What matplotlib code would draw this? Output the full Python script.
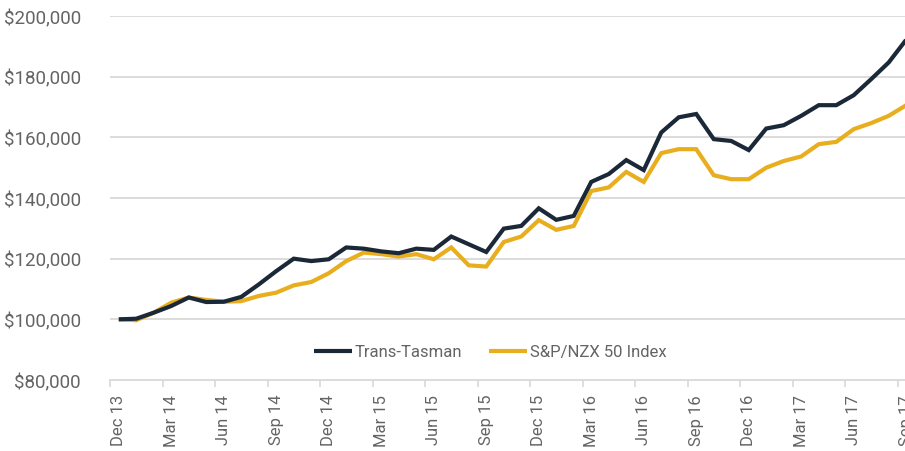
import matplotlib
matplotlib.use("Agg")
import matplotlib.pyplot as plt
from matplotlib.ticker import FuncFormatter, FixedLocator

plt.rcParams['font.family'] = ['Roboto', 'DejaVu Sans']

months = ["Dec 13", "Jan 14", "Feb 14", "Mar 14", "Apr 14", "May 14", "Jun 14", "Jul 14", "Aug 14",
          "Sep 14", "Oct 14", "Nov 14", "Dec 14", "Jan 15", "Feb 15", "Mar 15", "Apr 15", "May 15",
          "Jun 15", "Jul 15", "Aug 15", "Sep 15", "Oct 15", "Nov 15", "Dec 15", "Jan 16", "Feb 16",
          "Mar 16", "Apr 16", "May 16", "Jun 16", "Jul 16", "Aug 16", "Sep 16", "Oct 16", "Nov 16",
          "Dec 16", "Jan 17", "Feb 17", "Mar 17", "Apr 17", "May 17", "Jun 17", "Jul 17", "Aug 17",
          "Sep 17"]

trans_tasman = [100000, 100200, 102200, 104400, 107200, 105700, 105800, 107400, 111500,
                115900, 120000, 119200, 119800, 123700, 123300, 122400, 121800, 123300,
                122900, 127300, 124750, 122200, 129900, 130800, 136600, 132800, 134100,
                145300, 147900, 152500, 149200, 161600, 166600, 167700, 159400, 158800,
                155800, 162900, 164000, 167100, 170600, 170600, 173900, 179200, 184700,
                192200]

nzx50 = [100000, 99700, 102200, 105500, 107200, 106400, 105800, 106000, 107700,
         108800, 111200, 112300, 115200, 119200, 122000, 121500, 120700, 121500,
         119800, 123700, 117800, 117400, 125500, 127300, 132700, 129500, 130800,
         142300, 143500, 148600, 145300, 154800, 156100, 156100, 147500, 146200,
         146200, 150000, 152200, 153700, 157750, 158500, 162700, 164700, 167100,
         170600]

series_names = ["Trans-Tasman", "S&P/NZX 50 Index"]
y_ticks = [80000, 100000, 120000, 140000, 160000, 180000, 200000]

W, H = 905, 452
fig = plt.figure(figsize=(W / 100, H / 100), dpi=100)
left, right, top, bottom = 110, 915, 17, 381
ax = fig.add_axes([left / W, (H - bottom) / H, (right - left) / W, (bottom - top) / H])

x = list(range(len(months)))
grid_color = "#d9d9d9"
text_color = "#646464"

for yv in y_ticks[1:]:
    ax.axhline(yv, color=grid_color, lw=1.3, zorder=0)

ax.plot(x, trans_tasman, color="#1b2838", lw=3.0, label=series_names[0], zorder=3,
        solid_joinstyle="miter", solid_capstyle="butt")
ax.plot(x, nzx50, color="#e8ae1e", lw=3.0, label=series_names[1], zorder=2,
        solid_joinstyle="miter", solid_capstyle="butt")

ax.set_xlim(-0.5, len(months) - 0.5)
ax.set_ylim(80000, 200000)

for s in ["left", "right", "top"]:
    ax.spines[s].set_visible(False)
ax.spines["bottom"].set_color(grid_color)
ax.spines["bottom"].set_linewidth(1.3)

label_idx = list(range(0, len(months), 3))
ax.set_xticks(label_idx)
ax.set_xticklabels([months[i] for i in label_idx], rotation=90, fontsize=12, color=text_color)
ax.xaxis.set_minor_locator(FixedLocator([i - 0.5 for i in label_idx]))
ax.tick_params(axis="x", which="major", length=0, pad=10)
ax.tick_params(axis="x", which="minor", length=5, color=grid_color, width=1.2)

ax.set_yticks(y_ticks)
ax.yaxis.set_major_formatter(FuncFormatter(lambda v, p: f"${v:,.0f}"))
ax.tick_params(axis="y", length=0, pad=21, labelsize=13.5, labelcolor=text_color)

leg = ax.legend(loc="center", bbox_to_anchor=((490 - left) / (right - left), (bottom - 353) / (bottom - top)),
                ncol=2, frameon=False, fontsize=12, handlelength=2.3, handletextpad=0.15,
                columnspacing=1.6, labelcolor=text_color)

fig.savefig("out.png", dpi=100)
